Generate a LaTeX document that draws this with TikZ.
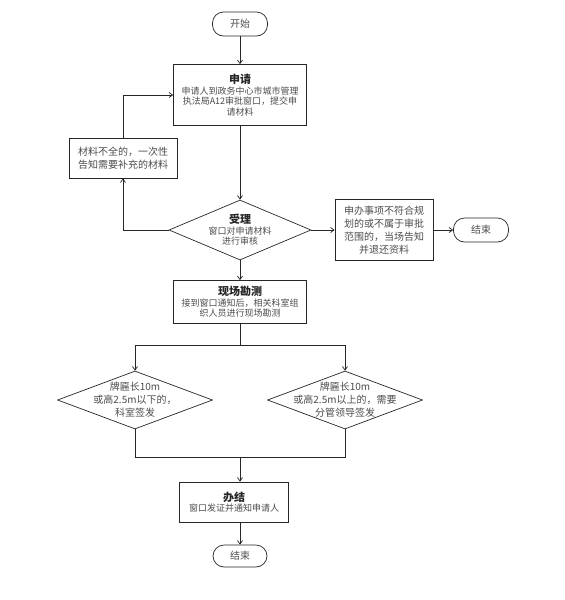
\documentclass[tikz,border=0pt]{standalone}
\usepackage{fontspec}
\newfontfamily\cjk{Noto Sans CJK SC}
\usetikzlibrary{arrows.meta, shapes.geometric}
\definecolor{ink}{HTML}{262626}
\definecolor{muted}{HTML}{4D4D4D}
\newcommand\stagehead[1]{{\fontsize{11}{13}\selectfont\bfseries\color{ink}#1}}
\tikzset{
  font=\cjk\fontsize{9}{10.5}\selectfont,
  >={Straight Barb[length=3.5pt, width=5pt]},
  %
  box/.style={draw=ink, line width=0.7pt, align=center, text=muted, inner sep=2pt},
  bigtext/.style={font=\cjk\fontsize{10}{13}\selectfont},
  pill/.style={box, bigtext, rounded corners=11pt, minimum width=55pt, minimum height=24pt},
  dec/.style={draw=ink, line width=0.7pt, diamond, inner sep=0pt},
  inside/.style={align=center, text=muted, inner sep=0pt},
  %
  arr/.style={draw=ink, line width=0.7pt, ->},
  wire/.style={draw=ink, line width=0.7pt},
}

\begin{document}
\begin{tikzpicture}[x=1pt, y=-1pt]
  \useasboundingbox[fill=white] (0,0) rectangle (565,600);

  \node[pill] (start) at (240,24) {开始};

  \node[box, minimum width=133pt, minimum height=61pt] (apply) at (240,95)
    {\stagehead{申请}\\申请人到政务中心市城市管理\\执法局A12审批窗口，提交申\\请材料};

  \node[box, bigtext, minimum width=108pt, minimum height=40pt] (supp) at (123,158)
    {材料不全的，一次性\\告知需要补充的材料};

  % acceptance check
  \node[dec, minimum width=142pt, minimum height=60pt] (accept) at (240,230) {};
  \node[inside] at (accept) {\stagehead{受理}\\窗口对申请材料\\进行审核};

  \node[box, bigtext, minimum width=98pt, minimum height=61pt] (reject) at (384,230)
    {申办事项不符合规\\划的或不属于审批\\范围的，当场告知\\并退还资料};
  \node[pill] (end1) at (481,230) {结束};

  \node[box, minimum width=133pt, minimum height=43pt] (survey) at (240,302)
    {\stagehead{现场勘测}\\接到窗口通知后，相关科室组\\织人员进行现场勘测};

  % two signing routes
  \node[dec, minimum width=155pt, minimum height=58pt] (small) at (135,400) {};
  \node[inside, bigtext] at (small) {牌匾长10m\\或高2.5m以下的，\\科室签发};
  \node[dec, minimum width=155pt, minimum height=58pt] (large) at (345,400) {};
  \node[inside, bigtext] at (large) {牌匾长10m\\或高2.5m以上的，需要\\分管领导签发};

  \node[box, minimum width=109pt, minimum height=40pt] (finish) at (234,502)
    {\stagehead{办结}\\窗口发证并通知申请人};
  \node[pill, minimum width=54pt, minimum height=22pt] (end2) at (240,556) {结束};

  \coordinate (split) at (240,345);
  \coordinate (merge) at (240,457);

  \draw[arr] (start) -- (apply);
  \draw[arr] (apply) -- (accept);
  \draw[arr] (accept.west) -| (supp.south);
  \draw[arr] (supp.north) |- (apply.west);
  \draw[arr] (accept.east) -- (reject.west);
  \draw[arr] (reject.east) -- (end1.west);
  \draw[arr] (accept.south) -- (survey.north);
  \draw[wire] (survey.south) -- (split);
  \draw[arr] (split) -| (small.north);
  \draw[arr] (split) -| (large.north);
  \draw[wire] (small.south) |- (merge);
  \draw[wire] (large.south) |- (merge);
  \draw[arr] (merge) -- (merge |- finish.north);
  \draw[arr] (finish.south -| end2) -- (end2.north);

\end{tikzpicture}
\end{document}
